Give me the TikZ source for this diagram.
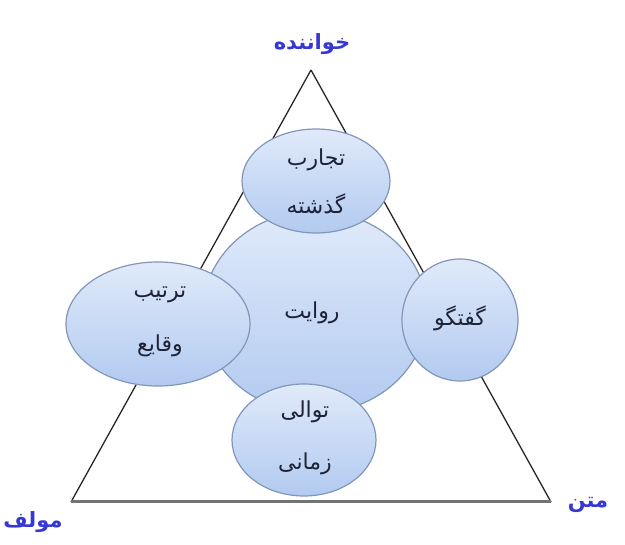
\documentclass[tikz,border=0pt]{standalone}
\usepackage{fontspec}
\usetikzlibrary{shapes.geometric}
\newfontfamily\arabicfont[Script=Arabic]{DejaVu Sans}
\TeXXeTstate=1
\definecolor{ellfillA}{RGB}{224,234,250}
\definecolor{ellfillB}{RGB}{178,202,240}
\definecolor{elldraw}{RGB}{130,150,185}
\definecolor{elltext}{RGB}{30,35,55}
\definecolor{lblblue}{RGB}{55,55,210}
\begin{document}
\begin{tikzpicture}[x=1pt,y=-1pt,
  bubble/.style={ellipse, draw=elldraw, line width=1.2pt, top color=ellfillA, bottom color=ellfillB, inner sep=0pt},
  btext/.style={font=\arabicfont\fontsize{22}{48}\selectfont, text=elltext, align=center},
  corner/.style={font=\arabicfont\bfseries\fontsize{21}{24}\selectfont, text=lblblue},
  tri/.style={draw=black!85, line width=1.3pt}]
\useasboundingbox (0,0) rectangle (625,545);
\coordinate (A) at (311,70);
\coordinate (B) at (71,502);
\coordinate (C) at (551,502);
\draw[tri] (A) -- (B);
\draw[tri] (A) -- (C);
\draw[draw=black!55, line width=3pt] (B) -- (C);
\node[bubble, minimum width=224, minimum height=202] (mid) at (315,312) {};
\node[btext] (midt) at (312,313) {\beginR روایت\endR};
\node[bubble, minimum width=148, minimum height=104] (top) at (316,181) {};
\node[btext] (topt) at (316,181) {\beginR تجارب\endR\\\beginR گذشته\endR};
\node[bubble, minimum width=184, minimum height=124] (left) at (158,324) {};
\node[btext, font=\arabicfont\fontsize{22}{54}\selectfont] (leftt) at (160,322) {\beginR ترتیب\endR\\\beginR وقایع\endR};
\node[bubble, minimum width=116, minimum height=122] (right) at (460,320) {};
\node[btext] (rightt) at (460,318) {\beginR گفتگو\endR};
\node[bubble, minimum width=144, minimum height=112] (bot) at (304,440) {};
\node[btext, font=\arabicfont\fontsize{22}{52}\selectfont] (bott) at (305,438) {\beginR توالی\endR\\\beginR زمانی\endR};
\node[corner] (reader) at (312,44) {\beginR خواننده\endR};
\node[corner] (author) at (33,522) {\beginR مولف\endR};
\node[corner] (text) at (588,505) {\beginR متن\endR};
\end{tikzpicture}
\end{document}
